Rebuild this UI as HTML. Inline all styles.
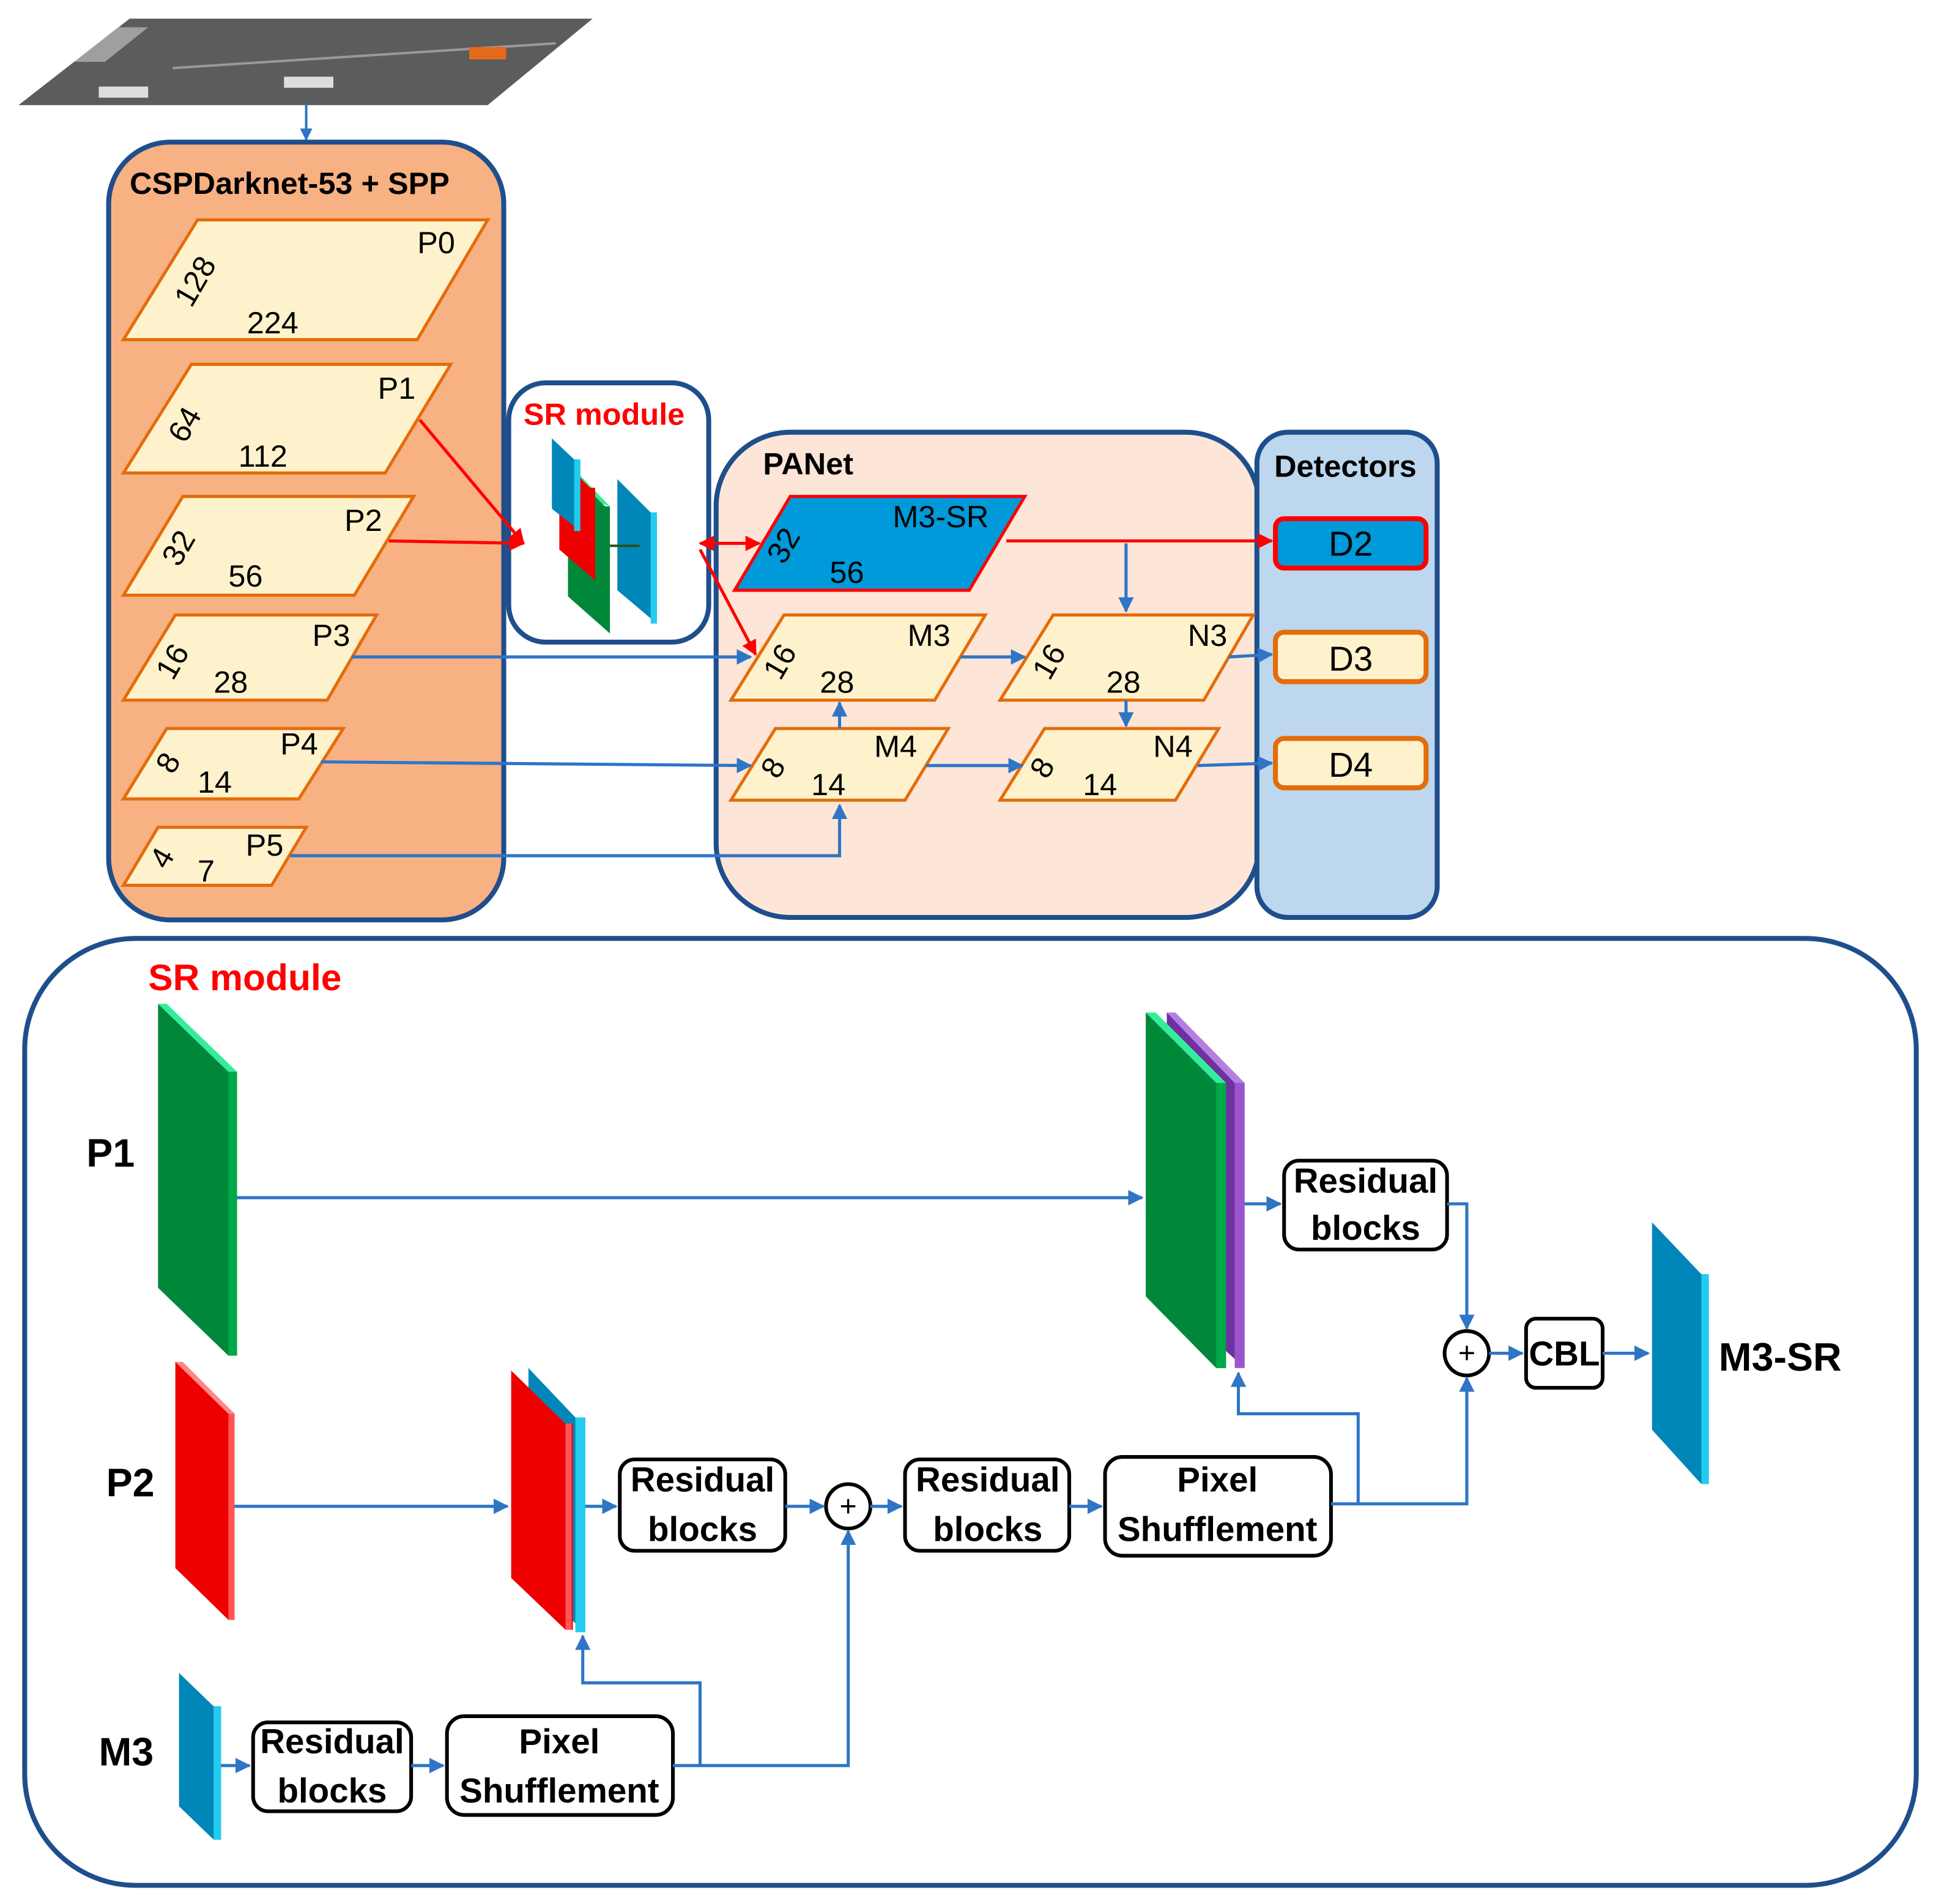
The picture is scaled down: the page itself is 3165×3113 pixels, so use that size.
<!DOCTYPE html>
<html><head><meta charset="utf-8"><style>
html,body{margin:0;padding:0;background:#fff}
svg{display:block}
text{font-family:"Liberation Sans",sans-serif}
</style></head><body>
<svg width="3165" height="3113" viewBox="0 0 1568 1542" xmlns="http://www.w3.org/2000/svg">
<defs>
<marker id="ab" viewBox="0 0 10 10" refX="9" refY="5" markerWidth="5" markerHeight="5" orient="auto"><path d="M0,0L10,5L0,10z" fill="#2E75C6"/></marker>
<marker id="ar" viewBox="0 0 10 10" refX="9" refY="5" markerWidth="5" markerHeight="5" orient="auto-start-reverse"><path d="M0,0L10,5L0,10z" fill="#F00"/></marker>
</defs>
<!-- aerial image -->
<polygon points="15,85 105,15 480,15 395,85" fill="#5a5c5e"/>
<polygon points="60,50 95,22 120,22 85,50" fill="#ccc" opacity="0.6"/>
<line x1="140" y1="55" x2="450" y2="35" stroke="#999" stroke-width="2"/>
<rect x="380" y="38" width="30" height="10" fill="#e56a1c"/>
<rect x="230" y="62" width="40" height="9" fill="#ddd"/>
<rect x="80" y="70" width="40" height="9" fill="#ddd"/>
<line x1="248" y1="85" x2="248" y2="113" stroke="#2E75C6" stroke-width="2" marker-end="url(#ab)"/>

<!-- CSPDarknet -->
<rect x="88" y="115" width="320" height="630" rx="50" fill="#F8B183" stroke="#1F4E8C" stroke-width="4"/>
<text x="105" y="157" font-size="25" font-weight="bold">CSPDarknet-53 + SPP</text>
<g fill="#FEF2CC" stroke="#E46C0A" stroke-width="2.5">
<polygon points="100,275 160,178 395,178 338,275"/>
<polygon points="100,383 155,295 365,295 312,383"/>
<polygon points="100,482 148,402 335,402 287,482"/>
<polygon points="100,567 142,498 305,498 265,567"/>
<polygon points="100,647 135,590 278,590 242,647"/>
<polygon points="100,717 128,670 248,670 220,717"/>
</g>
<g font-size="25">
<text x="338" y="205">P0</text><text x="200" y="270">224</text><text transform="translate(155,250) rotate(-60)">128</text>
<text x="306" y="323">P1</text><text x="193" y="378">112</text><text transform="translate(150,360) rotate(-60)">64</text>
<text x="279" y="430">P2</text><text x="185" y="475">56</text><text transform="translate(145,460) rotate(-60)">32</text>
<text x="253" y="523">P3</text><text x="173" y="561">28</text><text transform="translate(140,552) rotate(-60)">16</text>
<text x="227" y="611">P4</text><text x="160" y="642">14</text><text transform="translate(140,628) rotate(-60)">8</text>
<text x="199" y="693">P5</text><text x="160" y="714">7</text><text transform="translate(135,705) rotate(-60)">4</text>
</g>

<!-- small SR module -->
<rect x="412" y="310" width="162" height="210" rx="30" fill="#fff" stroke="#1F4E8C" stroke-width="4"/>
<text x="424" y="344" font-size="25" font-weight="bold" fill="#F00">SR module</text>
<polygon points="460,380 490,410 494,410 494,513 460,483" fill="#00873A"/>
<polygon points="460,380 488,408 494,410 465,380" fill="#33EE88"/>
<polygon points="453,370 478,395 482,395 482,470 453,445" fill="#E00"/>
<polygon points="447,355 465,372 470,372 470,430 447,412" fill="#0086B8"/>
<rect x="465" y="372" width="5" height="58" fill="#22CCEE"/>
<polygon points="500,388 527,415 532,415 532,505 500,478" fill="#0086B8"/>
<rect x="527" y="415" width="5" height="90" fill="#22CCEE"/>
<line x1="494" y1="442" x2="518" y2="442" stroke="#2C4F1F" stroke-width="2"/>

<!-- PANet -->
<rect x="580" y="350" width="440" height="393" rx="60" fill="#FDE5D8" stroke="#1F4E8C" stroke-width="4"/>
<text x="618" y="384" font-size="25" font-weight="bold">PANet</text>
<rect x="1018" y="350" width="146" height="393" rx="25" fill="#BDD7EE" stroke="#1F4E8C" stroke-width="4"/>
<text x="1032" y="386" font-size="25" font-weight="bold">Detectors</text>
<rect x="1033" y="420" width="122" height="40" rx="7" fill="#0099D9" stroke="#F00" stroke-width="4"/>
<rect x="1033" y="512" width="122" height="40" rx="7" fill="#FEF2CC" stroke="#E46C0A" stroke-width="4"/>
<rect x="1033" y="598" width="122" height="40" rx="7" fill="#FEF2CC" stroke="#E46C0A" stroke-width="4"/>
<g font-size="28" text-anchor="middle"><text x="1094" y="450">D2</text><text x="1094" y="543">D3</text><text x="1094" y="629">D4</text></g>

<polygon points="595,478 640,402 830,402 785,478" fill="#0099D9" stroke="#F00" stroke-width="2.5"/>
<g fill="#FEF2CC" stroke="#E46C0A" stroke-width="2.5">
<polygon points="592,567 635,498 798,498 757,567"/>
<polygon points="810,567 853,498 1015,498 975,567"/>
<polygon points="592,648 628,590 768,590 733,648"/>
<polygon points="810,648 846,590 987,590 952,648"/>
</g>
<g font-size="25">
<text x="723" y="427">M3-SR</text><text x="672" y="472">56</text><text transform="translate(635,458) rotate(-60)">32</text>
<text x="735" y="523">M3</text><text x="664" y="561">28</text><text transform="translate(632,552) rotate(-60)">16</text>
<text x="962" y="523">N3</text><text x="896" y="561">28</text><text transform="translate(850,552) rotate(-60)">16</text>
<text x="708" y="613">M4</text><text x="657" y="644">14</text><text transform="translate(630,632) rotate(-60)">8</text>
<text x="934" y="613">N4</text><text x="877" y="644">14</text><text transform="translate(848,632) rotate(-60)">8</text>
</g>
<g stroke="#F00" stroke-width="2.5" fill="none">
<line x1="340" y1="340" x2="424" y2="440" marker-end="url(#ar)"/>
<line x1="315" y1="438" x2="424" y2="440" marker-end="url(#ar)"/>
<line x1="567" y1="440" x2="615" y2="440" marker-end="url(#ar)" marker-start="url(#ar)"/>
<line x1="567" y1="445" x2="612" y2="530" marker-end="url(#ar)"/>
<line x1="815" y1="438" x2="1030" y2="438" marker-end="url(#ar)"/>
</g>
<g stroke="#2E75C6" stroke-width="2.5" fill="none" marker-end="url(#ab)">
<line x1="912" y1="440" x2="912" y2="495"/>
<line x1="285" y1="532" x2="608" y2="532"/>
<line x1="778" y1="532" x2="830" y2="532"/>
<line x1="995" y1="532" x2="1030" y2="530"/>
<line x1="260" y1="617" x2="608" y2="620"/>
<line x1="750" y1="620" x2="828" y2="620"/>
<line x1="970" y1="620" x2="1030" y2="618"/>
<polyline points="235,693 680,693 680,652"/>
<line x1="680" y1="590" x2="680" y2="569"/>
<line x1="912" y1="567" x2="912" y2="588"/>
</g>

<!-- big SR module -->
<rect x="20" y="760" width="1532" height="767" rx="90" fill="#fff" stroke="#1F4E8C" stroke-width="4"/>
<text x="120" y="802" font-size="30" font-weight="bold" fill="#F00">SR module</text>
<g font-size="32" font-weight="bold">
<text x="70" y="945">P1</text><text x="86" y="1212">P2</text><text x="80" y="1430">M3</text><text x="1392" y="1110">M3-SR</text>
</g>
<!-- P1 slab -->
<polygon points="128,813 185,868 192,868 192,1098 185,1098 128,1043" fill="#00873A"/>
<rect x="185" y="868" width="7" height="230" fill="#00A84A"/>
<polygon points="128,813 135,813 192,868 185,868" fill="#33EE99"/>
<!-- concat stack top -->
<polygon points="945,820 1000,877 1008,877 1008,1108 945,1050" fill="#7030A0"/>
<rect x="1000" y="877" width="8" height="231" fill="#9A55CC"/>
<polygon points="945,820 952,820 1008,877 1000,877" fill="#B57FE0"/>
<polygon points="928,820 985,877 993,877 993,1108 985,1108 928,1050" fill="#00873A"/>
<rect x="985" y="877" width="8" height="231" fill="#00A84A"/>
<polygon points="928,820 936,820 993,877 985,877" fill="#33EE99"/>
<!-- P2 slab -->
<polygon points="142,1103 185,1145 190,1145 190,1312 185,1312 142,1270" fill="#E00"/>
<rect x="185" y="1145" width="5" height="167" fill="#FF5555"/>
<polygon points="142,1103 148,1103 190,1145 185,1145" fill="#FF8888"/>
<!-- P2 stack -->
<polygon points="428,1108 466,1148 474,1148 474,1322 428,1280" fill="#0086B8"/>
<rect x="466" y="1148" width="8" height="174" fill="#22CCEE"/>
<polygon points="414,1110 458,1153 464,1153 464,1320 458,1320 414,1278" fill="#E00"/>
<rect x="458" y="1153" width="5" height="167" fill="#FF5555"/>
<!-- M3 slab -->
<polygon points="145,1355 173,1382 179,1382 179,1490 173,1490 145,1463" fill="#0086B8"/>
<rect x="173" y="1382" width="6" height="108" fill="#22CCEE"/>
<!-- M3-SR slab -->
<polygon points="1338,990 1378,1032 1384,1032 1384,1202 1378,1202 1338,1158" fill="#0086B8"/>
<rect x="1378" y="1032" width="6" height="170" fill="#22CCEE"/>

<g fill="#fff" stroke="#000" stroke-width="3">
<rect x="1040" y="940" width="132" height="72" rx="12"/>
<rect x="1236" y="1068" width="62" height="56" rx="8"/>
<rect x="502" y="1182" width="134" height="74" rx="12"/>
<rect x="733" y="1182" width="133" height="74" rx="12"/>
<rect x="895" y="1180" width="183" height="80" rx="14"/>
<rect x="205" y="1395" width="128" height="72" rx="12"/>
<rect x="362" y="1390" width="183" height="80" rx="14"/>
<circle cx="1188" cy="1096" r="18"/>
<circle cx="687" cy="1220" r="18"/>
</g>
<g font-size="24" text-anchor="middle"><text x="1188" y="1104">+</text><text x="687" y="1228">+</text></g>
<g font-size="28" font-weight="bold" text-anchor="middle">
<text x="1106" y="966">Residual</text><text x="1106" y="1004">blocks</text>
<text x="1267" y="1106">CBL</text>
<text x="569" y="1208">Residual</text><text x="569" y="1248">blocks</text>
<text x="800" y="1208">Residual</text><text x="800" y="1248">blocks</text>
<text x="986" y="1208">Pixel</text><text x="986" y="1248">Shufflement</text>
<text x="269" y="1420">Residual</text><text x="269" y="1460">blocks</text>
<text x="453" y="1420">Pixel</text><text x="453" y="1460">Shufflement</text>
</g>
<g stroke="#2E75C6" stroke-width="2.5" fill="none" marker-end="url(#ab)">
<line x1="192" y1="970" x2="925" y2="970"/>
<line x1="1008" y1="975" x2="1037" y2="975"/>
<polyline points="1172,975 1188,975 1188,1076"/>
<line x1="1206" y1="1096" x2="1233" y2="1096"/>
<line x1="1298" y1="1096" x2="1335" y2="1096"/>
<line x1="190" y1="1220" x2="411" y2="1220"/>
<line x1="474" y1="1220" x2="499" y2="1220"/>
<line x1="636" y1="1220" x2="667" y2="1220"/>
<line x1="705" y1="1220" x2="730" y2="1220"/>
<line x1="866" y1="1220" x2="892" y2="1220"/>
<polyline points="1078,1218 1188,1218 1188,1116"/>
<polyline points="1100,1218 1100,1145 1003,1145 1003,1112"/>
<line x1="179" y1="1430" x2="202" y2="1430"/>
<line x1="333" y1="1430" x2="359" y2="1430"/>
<polyline points="545,1430 687,1430 687,1240"/>
<polyline points="567,1430 567,1363 472,1363 472,1325"/>
</g>
</svg>
</body></html>
